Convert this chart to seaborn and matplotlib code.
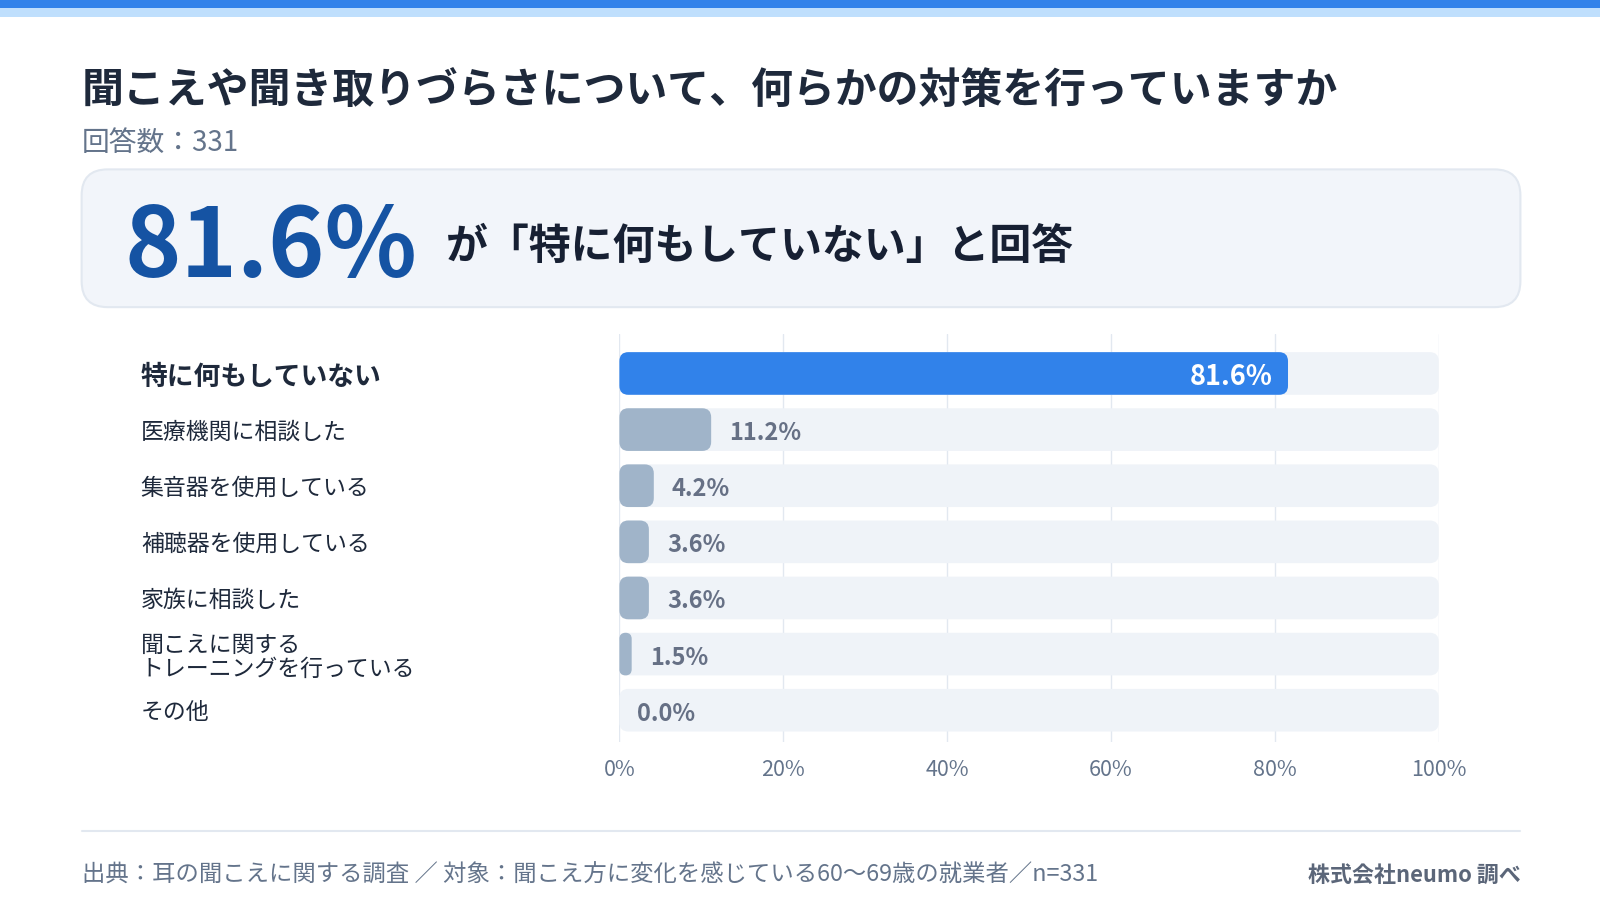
import matplotlib
matplotlib.use("Agg")
import matplotlib.pyplot as plt
from matplotlib.patches import FancyBboxPatch, Rectangle
import seaborn as sns
import pandas as pd

# ---------------- data ----------------
categories = [
    "特に何もしていない",
    "医療機関に相談した",
    "集音器を使用している",
    "補聴器を使用している",
    "家族に相談した",
    "聞こえに関する\nトレーニングを行っている",
    "その他",
]
values = [81.6, 11.2, 4.2, 3.6, 3.6, 1.5, 0.0]
track_values = [100] * len(categories)
x_ticks = [0, 20, 40, 60, 80, 100]
x_tick_labels = ["0%", "20%", "40%", "60%", "80%", "100%"]

title = "聞こえや聞き取りづらさについて、何らかの対策を行っていますか"
subtitle = "回答数：331"
callout_text = "が「特に何もしていない」と回答"
footer_left = "出典：耳の聞こえに関する調査 ／ 対象：聞こえ方に変化を感じている60〜69歳の就業者／n=331"
footer_right = "株式会社neumo 調べ"

# ---------------- style ----------------
sns.set_theme(style="white")
plt.rcParams["font.family"] = ["Noto Sans CJK JP", "DejaVu Sans"]

W, H = 1600, 900
S = W / 1568.0  # reference reading scale


def P(v):
    return v * S


C_DARK = "#1e293b"
C_GRAY = "#64748b"
C_VAL = "#667085"
C_HI = "#3182ea"
C_BAR = "#a0b4c9"
C_TRACK = "#eff3f8"
C_GRID = "#e2e8f0"

fig = plt.figure(figsize=(16, 9), dpi=100)
fig.patch.set_facecolor("white")

# decoration layer in pixel coordinates
deco = fig.add_axes([0, 0, 1, 1], zorder=0)
deco.set_xlim(0, W)
deco.set_ylim(H, 0)
deco.axis("off")

deco.add_patch(Rectangle((0, 0), W, 8.4, color="#3182ea", lw=0))
deco.add_patch(Rectangle((0, 8.4), W, 8.4, color="#bfdffd", lw=0))

deco.text(P(80), P(90), title, fontsize=30.2, fontweight="bold", color=C_DARK,
          ha="left", va="center")
deco.text(P(80), P(140), subtitle, fontsize=20, color=C_GRAY,
          ha="left", va="center")

# callout box
deco.add_patch(FancyBboxPatch((P(80), P(166)), P(1410), P(135),
                              boxstyle="round,pad=0,rounding_size=26",
                              facecolor="#f2f5fa", edgecolor="#e2e8f0", lw=1.5))
deco.text(P(122), P(244), f"{values[0]}%", fontsize=69, fontweight="bold",
          color="#1553a3", ha="left", va="center")
deco.text(P(437), P(242), callout_text, fontsize=30.2, fontweight="bold",
          color="#172033", ha="left", va="center")

# footer
deco.plot([P(80), P(1490)], [P(814), P(814)], color=C_GRID, lw=1.5)
deco.text(P(80), P(858), footer_left, fontsize=16.8, color=C_GRAY,
          ha="left", va="center")
deco.text(P(1490), P(858), footer_right, fontsize=15.8, fontweight="bold",
          color="#5b6679", ha="right", va="center")

# ---------------- chart ----------------
ax_left, ax_right = 607 / 1568, 1410 / 1568
ax_top, ax_bottom = 1 - 327 / 882, 1 - 727 / 882
ax = fig.add_axes([ax_left, ax_bottom, ax_right - ax_left, ax_top - ax_bottom], zorder=1)
ax.set_facecolor("none")

df = pd.DataFrame({"cat": categories, "val": values, "track": track_values})
palette = {c: (C_HI if i == 0 else C_BAR) for i, c in enumerate(categories)}

sns.barplot(data=df, x="track", y="cat", orient="h", color=C_TRACK,
            saturation=1, width=0.76, ax=ax, zorder=2)
sns.barplot(data=df, x="val", y="cat", hue="cat", palette=palette, orient="h",
            saturation=1, width=0.76, ax=ax, legend=False, zorder=3)

ax.set_xlim(0, 100)
ax.set_ylim(6 + 31 / 55, -39 / 55)

# rounded bars
fig.canvas.draw()
bbox = ax.get_window_extent()
sx = bbox.width / 100.0
sy = bbox.height / abs(ax.get_ylim()[0] - ax.get_ylim()[1])
r_px = 9.0
patches = list(ax.patches)
for k, p in enumerate(patches):
    x, y = p.get_x(), p.get_y()
    w, h = p.get_width(), p.get_height()
    fc = p.get_facecolor()
    z = p.get_zorder()
    p.remove()
    if w <= 0:
        continue
    r = min(r_px, w * sx / 2.0, h * sy / 2.0)
    fp = FancyBboxPatch((x, y), w, h,
                        boxstyle=f"round,pad=0,rounding_size={r / sx}",
                        mutation_aspect=sx / sy,
                        facecolor=fc, edgecolor="none", lw=0, zorder=z)
    ax.add_patch(fp)

# value labels
for i, v in enumerate(values):
    if i == 0:
        ax.annotate(f"{v:.1f}%", (v, i), xytext=(-11, -2.5), textcoords="offset points",
                    ha="right", va="center", fontsize=19.5, fontweight="bold",
                    color="white", zorder=5)
    else:
        ax.annotate(f"{v:.1f}%", (v, i), xytext=(13, -2.5), textcoords="offset points",
                    ha="left", va="center", fontsize=17, fontweight="bold",
                    color=C_VAL, zorder=5)

# grid & ticks
ax.set_xticks(x_ticks)
ax.set_xticklabels(x_tick_labels, fontsize=15.5, color=C_GRAY)
ax.xaxis.grid(True, color=C_GRID, lw=1, zorder=0)
ax.set_axisbelow(True)
ax.tick_params(axis="x", length=0, pad=12)
ax.set_xlabel("")
ax.set_ylabel("")
for s in ax.spines.values():
    s.set_visible(False)

pad_pts = (607 - 138) * S * 72 / 100.0
ax.tick_params(axis="y", length=0, pad=pad_pts)
ax.set_yticks(range(len(categories)))
ax.set_yticklabels(categories)
for i, lab in enumerate(ax.get_yticklabels()):
    lab.set_horizontalalignment("left")
    lab.set_color(C_DARK)
    lab.set_linespacing(1.05)
    if i == 0:
        lab.set_fontsize(19.3)
        lab.set_fontweight("bold")
    else:
        lab.set_fontsize(16.5)

fig.savefig("out.png", dpi=100, facecolor="white")
